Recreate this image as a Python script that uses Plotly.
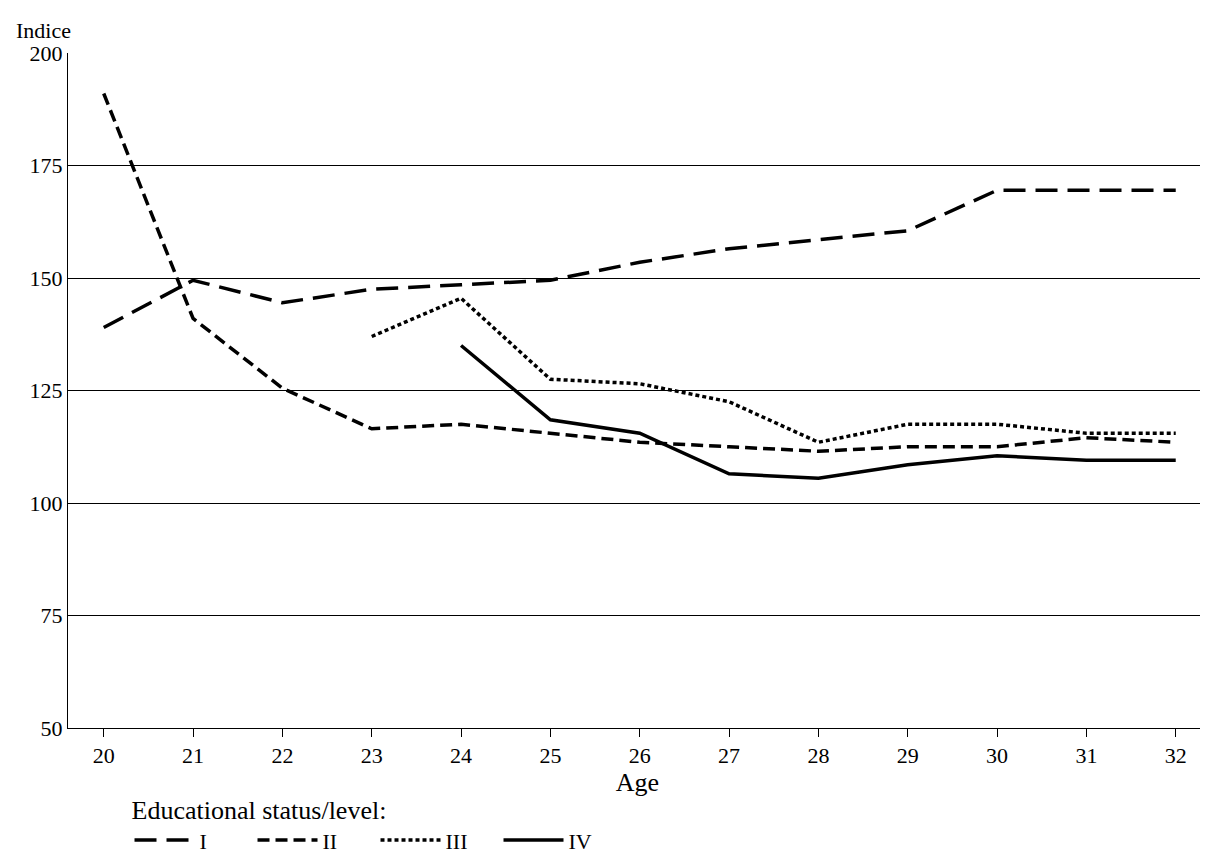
import plotly.graph_objects as go

ages = list(range(20, 33))
s1 = [139, 149.5, 144.5, 147.5, 148.5, 149.5, 153.5, 156.5, 158.5, 160.5, 169.5, 169.5, 169.5]
s2 = [191, 141, 125.5, 116.5, 117.5, 115.5, 113.5, 112.5, 111.5, 112.5, 112.5, 114.5, 113.5]
ages3 = list(range(23, 33))
s3 = [137, 145.5, 127.5, 126.5, 122.5, 113.5, 117.5, 117.5, 115.5, 115.5]
ages4 = list(range(24, 33))
s4 = [135, 118.5, 115.5, 106.5, 105.5, 108.5, 110.5, 109.5, 109.5]

serif = dict(family="serif", size=22, color="black")

fig = go.Figure()
fig.add_trace(go.Scatter(x=ages, y=s1, mode="lines", name="I",
                         line=dict(color="black", width=3.5, dash="22px,10px")))
fig.add_trace(go.Scatter(x=ages, y=s2, mode="lines", name="II",
                         line=dict(color="black", width=3.5, dash="12px,6px")))
fig.add_trace(go.Scatter(x=ages3, y=s3, mode="lines", name="III",
                         line=dict(color="black", width=3.5, dash="4px,3px")))
fig.add_trace(go.Scatter(x=ages4, y=s4, mode="lines", name="IV",
                         line=dict(color="black", width=3.5)))

fig.update_layout(
    template="none",
    width=1208, height=863,
    margin=dict(l=60, r=9, t=45, b=143),
    plot_bgcolor="white", paper_bgcolor="white",
    font=serif,
    xaxis=dict(range=[19.6, 32.35], tickvals=ages, showgrid=False, automargin=False,
               showline=True, linecolor="black", ticks="outside", ticklen=8,
               tickcolor="black", tickfont=serif, title=dict(text="Age", standoff=2)),
    yaxis=dict(range=[50, 200], tickvals=[50, 75, 100, 125, 150, 175, 200],
               showgrid=True, gridcolor="black", gridwidth=1, automargin=False,
               showline=True, linecolor="black", ticks="", zeroline=False,
               tickfont=serif),
    legend=dict(orientation="h", x=0.054, xanchor="left", y=-0.085, yanchor="top",
                title=dict(text="Educational status/level:", side="top"),
                itemwidth=60, entrywidth=48, entrywidthmode="pixels"),
    showlegend=True,
)
fig.add_shape(type="line", xref="paper", yref="paper", x0=1, x1=1, y0=0, y1=1,
              line=dict(color="black", width=1))
fig.add_annotation(text="Indice", xref="paper", yref="paper", x=-0.047, y=1.012,
                   xanchor="left", yanchor="bottom", showarrow=False, font=serif)
fig.write_html("out.html")
